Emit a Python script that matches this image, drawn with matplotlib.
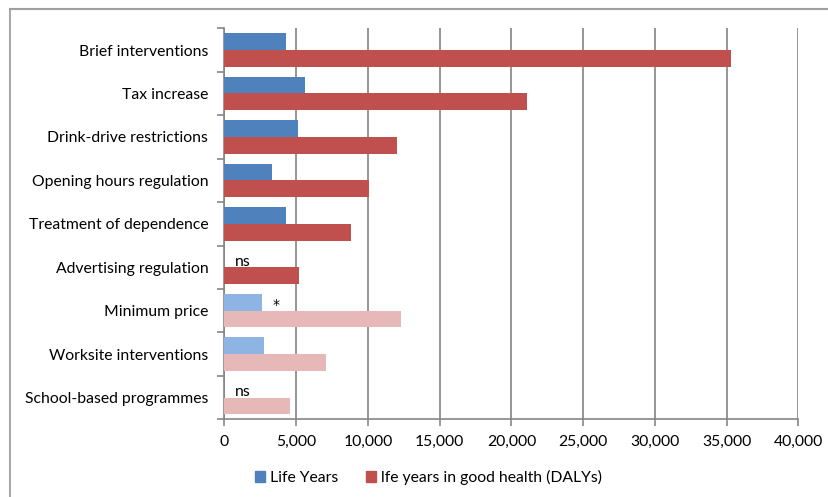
import matplotlib
matplotlib.use("Agg")
import matplotlib.pyplot as plt
from matplotlib.lines import Line2D
from matplotlib.patches import Patch
import numpy as np

categories = ["Brief interventions", "Tax increase", "Drink-drive restrictions",
              "Opening hours regulation", "Treatment of dependence",
              "Advertising regulation", "Minimum price", "Worksite interventions",
              "School-based programmes"]
life_years = [4300, 5600, 5100, 3300, 4300, 0, 2600, 2800, 0]
dalys = [35300, 21100, 12000, 10100, 8850, 5200, 12300, 7100, 4600]
# modelled (lighter) vs. observed
light = [False, False, False, False, False, False, True, True, True]
annotations = {5: "ns", 6: "*", 8: "ns"}
xticks = [0, 5000, 10000, 15000, 20000, 25000, 30000, 35000, 40000]
legend_labels = ["Life Years", "lfe years in good health (DALYs)"]

BLUE, RED = "#4F81BD", "#C0504D"
LBLUE, LRED = "#8DB4E3", "#E6B9B8"

plt.rcParams['font.family'] = ['Lato', 'DejaVu Sans']
FS = 11.3

W, H = 829, 497
fig = plt.figure(figsize=(W / 100, H / 100), dpi=100)
left, right, top, bottom = 224.3, 798.5, 28.3, 419.3
ax = fig.add_axes([left / W, 1 - bottom / H, (right - left) / W, (bottom - top) / H])

n = len(categories)
y = np.arange(n)
h = 0.385
bcol = [LBLUE if l else BLUE for l in light]
rcol = [LRED if l else RED for l in light]
ax.barh(y - h / 2, life_years, height=h, color=bcol, zorder=3)
ax.barh(y + h / 2, dalys, height=h, color=rcol, zorder=3)

for i, t in annotations.items():
    if t == "*":
        ax.text(3580, i - h / 2 + 0.06, t, ha="center", va="center", fontsize=10,
                family=["DejaVu Sans"], zorder=4)
    else:
        ax.text(1270, i - h / 2 + 0.065, t, ha="center", va="center", fontsize=FS, zorder=4)

ax.set_ylim(n - 0.5, -0.5)
ax.set_xlim(0, 40000)
ax.set_xticks(xticks)
ax.set_xticklabels([f"{v:,}" for v in xticks], fontsize=FS)
ax.set_yticks(y)
ax.set_yticklabels(categories, fontsize=FS)
ax.set_yticks(np.arange(n + 1) - 0.5, minor=True)
ax.tick_params(axis="y", which="major", length=0, pad=11.5)
ax.tick_params(axis="y", which="minor", length=5, width=1.2, color="#868686", direction="out")
ax.tick_params(axis="x", length=5, width=1.2, color="#868686", direction="out", pad=6)

ax.grid(axis="x", color="#8C8C8C", linewidth=1.3, zorder=0)
for s in ["top", "right"]:
    ax.spines[s].set_visible(False)
for s in ["left", "bottom"]:
    ax.spines[s].set_color("#868686")
    ax.spines[s].set_linewidth(1.2)

# outer chart border
fig.add_artist(Line2D([10 / W, 10 / W], [0, 1 - 9 / H], transform=fig.transFigure,
                      color="#A8A8A8", linewidth=1.5))
fig.add_artist(Line2D([10 / W, 1], [1 - 9 / H, 1 - 9 / H], transform=fig.transFigure,
                      color="#A0A0A0", linewidth=1.5))

handles = [Patch(color=BLUE), Patch(color=RED)]
fig.legend(handles, legend_labels, loc="center", bbox_to_anchor=(428.5 / W, 1 - 477.5 / H),
           ncol=2, frameon=False, fontsize=FS, handlelength=0.62, handleheight=0.62,
           handletextpad=0.3, columnspacing=1.8, borderpad=0, borderaxespad=0)

fig.savefig("out.png", dpi=100)
